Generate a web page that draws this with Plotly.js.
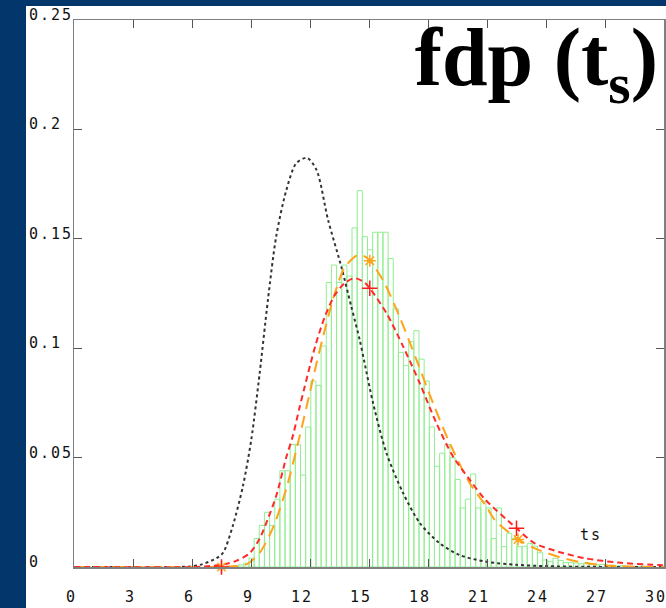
<!DOCTYPE html>
<html>
<head>
<meta charset="utf-8">
<script src="https://cdn.plot.ly/plotly-3.0.1.min.js"></script>
<style>
  html, body { margin: 0; padding: 0; background: #03366b; }
  #chart { width: 666px; height: 608px; }
  .annotation-text { letter-spacing: 2px; }
</style>
</head>
<body>
<div id="chart"></div>
<script>
// ---- data ----
const xTickVals = [0, 3, 6, 9, 12, 15, 18, 21, 24, 27, 30];
const xTickText = ["0", "3", "6", "9", "12", "15", "18", "21", "24", "27", "30"];
const yTickVals = [0, 0.05, 0.1, 0.15, 0.2, 0.25];
const yTickText = ["0", "0.05", "0.1", "0.15", "0.2", "0.25"];

// histogram (ts samples), bins of equal width
const binFirstCenter = 8.242;
const binWidth = 0.262;
const histValues = [
  0.0005, 0.001, 0.0017, 0.004, 0.013, 0.019, 0.025, 0.019, 0.031, 0.044,
  0.044, 0.056, 0.056, 0.042, 0.064, 0.085, 0.083, 0.101, 0.130, 0.138,
  0.130, 0.138, 0.133, 0.155, 0.172, 0.151, 0.145, 0.153, 0.153, 0.153,
  0.141, 0.118, 0.098, 0.092, 0.103, 0.108, 0.095, 0.085, 0.064, 0.046,
  0.052, 0.056, 0.050, 0.040, 0.027, 0.031, 0.0425, 0.027, 0.030, 0.027,
  0.013, 0.027, 0.0093, 0.0154, 0.013, 0.0093, 0.0095, 0.0107, 0.0095, 0.0065,
  0.0032, 0.0025, 0.004, 0.003, 0.002, 0.002, 0.0018, 0.0015, 0.002, 0.0012,
  0.001, 0.0012, 0.0008, 0.0008, 0.0005, 0.0006, 0.0004, 0.0003, 0.0002, 0.0003,
  0.0002
];

// black dotted curve
const blackX = [0, 5, 6, 6.5, 7.24, 7.58, 8.08, 8.59, 9.01, 9.44, 9.86, 10.28, 10.79, 11.3, 11.85, 12.33, 12.92, 13.6, 14.1, 14.53, 14.77, 15.21, 15.89, 16.74, 17.59, 18.6, 19.6, 20.97, 22.5, 24, 26, 30];
const blackY = [0, 0, 0.0003, 0.0012, 0.004, 0.0065, 0.019, 0.037, 0.058, 0.0885, 0.122, 0.151, 0.172, 0.1845, 0.187, 0.1815, 0.1586, 0.137, 0.119, 0.1037, 0.0935, 0.0748, 0.052, 0.0337, 0.020, 0.0108, 0.0055, 0.0024, 0.001, 0.0004, 0.0001, 0];

// red dashed curve
const redX = [0, 6, 7, 7.5, 8.25, 8.93, 9.44, 9.86, 10.3, 10.79, 11.13, 11.47, 11.72, 12.0, 12.3, 12.74, 13.24, 13.75, 14.27, 14.78, 15.04, 15.89, 16.74, 17.58, 18.43, 19.28, 20.13, 20.89, 22.5, 23.43, 24.62, 25.98, 27.68, 29.72, 30];
const redY = [0, 0, 0.0005, 0.001, 0.0028, 0.0063, 0.013, 0.022, 0.033, 0.050, 0.060, 0.073, 0.082, 0.092, 0.102, 0.114, 0.124, 0.1296, 0.132, 0.130, 0.1274, 0.116, 0.1007, 0.084, 0.0657, 0.0504, 0.0398, 0.031, 0.0177, 0.0108, 0.007, 0.004, 0.002, 0.0009, 0.0008];

// orange long-dashed curve
const orangeX = [0, 7, 7.9, 8.76, 9.44, 10.12, 10.8, 11.48, 12.0, 12.33, 12.8, 13.26, 13.77, 14.44, 14.78, 15.04, 15.72, 16.57, 17.42, 18.26, 19.11, 20.13, 20.97, 21.4, 22.58, 23.43, 24.62, 25.98, 27.68, 30];
const orangeY = [0, 0, 0.0002, 0.0012, 0.0065, 0.018, 0.036, 0.060, 0.080, 0.093, 0.110, 0.125, 0.137, 0.1426, 0.142, 0.140, 0.131, 0.114, 0.0946, 0.0748, 0.0565, 0.0382, 0.0276, 0.0215, 0.0126, 0.0085, 0.0047, 0.0018, 0.0004, 0];

// markers
const redMarkX = [7.5, 15.04, 22.5];
const redMarkY = [0.0, 0.1274, 0.0177];
const orangeMarkX = [7.5, 15.04, 22.58];
const orangeMarkY = [0.0, 0.140, 0.0126];

const legendLabel = "ts";
const legendX = 26.3, legendY = 0.0146;
const titleText = "fdp (t<sub>s</sub>)";

// ---- build ----
const binCenters = histValues.map((v, i) => binFirstCenter + i * binWidth);

const traces = [
  {
    type: "bar", x: binCenters, y: histValues, width: binWidth,
    marker: { color: "rgba(0,0,0,0)", line: { color: "#92ee92", width: 1 } },
    hoverinfo: "skip", showlegend: false
  },
  {
    type: "scatter", mode: "lines", x: blackX, y: blackY,
    line: { color: "#333333", width: 2, dash: "dot", shape: "spline", smoothing: 0.8 },
    showlegend: false
  },
  {
    type: "scatter", mode: "lines", x: orangeX, y: orangeY,
    line: { color: "#ffa31a", width: 2, dash: "12px,7px", shape: "spline", smoothing: 0.8 },
    showlegend: false
  },
  {
    type: "scatter", mode: "lines", x: redX, y: redY,
    line: { color: "#ff2a2a", width: 2, dash: "6px,4px", shape: "spline", smoothing: 0.8 },
    showlegend: false
  },
  {
    type: "scatter", mode: "markers", x: orangeMarkX, y: orangeMarkY,
    marker: { symbol: "asterisk-open", size: 10, color: "#ffa31a", line: { color: "#ffa31a", width: 1.5 } },
    cliponaxis: false, showlegend: false
  },
  {
    type: "scatter", mode: "markers", x: redMarkX, y: redMarkY,
    marker: { symbol: "cross-thin-open", size: 11, color: "#ff1a1a", line: { color: "#ff1a1a", width: 1.5 } },
    cliponaxis: false, showlegend: false
  }
];

const tickFont = { family: "DejaVu Sans Mono, monospace", size: 15, color: "#111" };
const annotations = [];
xTickVals.forEach((v, i) => {
  annotations.push({
    x: v, y: 0, xref: "x", yref: "paper", text: xTickText[i],
    showarrow: false, xanchor: "right", yanchor: "middle", xshift: 5, yshift: -30,
    font: tickFont
  });
});
yTickVals.forEach((v, i) => {
  annotations.push({
    x: 0, y: v, xref: "paper", yref: "y", text: yTickText[i],
    showarrow: false, xanchor: "left", yanchor: "middle", xshift: -47, yshift: 5,
    font: tickFont
  });
});
annotations.push({
  x: legendX, y: legendY, xref: "x", yref: "y", text: legendLabel,
  showarrow: false, xanchor: "center", yanchor: "middle", font: tickFont
});

const L = 74, R = 2, T = 20, B = 41, W = 666, H = 608;
const pw = W - L - R, ph = H - T - B;

const layout = {
  width: W, height: H,
  margin: { l: L, r: R, t: T, b: B, pad: 0 },
  paper_bgcolor: "#03366b",
  plot_bgcolor: "#ffffff",
  showlegend: false,
  bargap: 0,
  title: {
    text: titleText,
    font: { family: "Liberation Serif, Times New Roman, serif", size: 82, color: "#000", weight: "bold" },
    xref: "container", yref: "container",
    x: 658 / W, xanchor: "right",
    y: 1 - 28 / H, yanchor: "top"
  },
  xaxis: {
    range: [0, 30], tickvals: xTickVals, showticklabels: false,
    ticks: "inside", ticklen: 8, tickcolor: "#555", tickwidth: 1,
    showline: true, linecolor: "#808080", linewidth: 1.5, mirror: "ticks",
    showgrid: false, zeroline: false, fixedrange: true
  },
  yaxis: {
    range: [0, 0.25], tickvals: yTickVals, showticklabels: false,
    ticks: "inside", ticklen: 8, tickcolor: "#555", tickwidth: 1,
    showline: true, linecolor: "#808080", linewidth: 1.5, mirror: "ticks",
    showgrid: false, zeroline: false, fixedrange: true
  },
  shapes: [{
    type: "rect", xref: "paper", yref: "paper", layer: "below",
    x0: (26 - L) / pw, x1: (W - L + 5) / pw,
    y0: -(B + 5) / ph, y1: (H - 6 - B) / ph,
    fillcolor: "#ffffff", line: { width: 0 }
  }],
  annotations: annotations
};

Plotly.newPlot("chart", traces, layout, { displayModeBar: false, staticPlot: true });
</script>
</body>
</html>
